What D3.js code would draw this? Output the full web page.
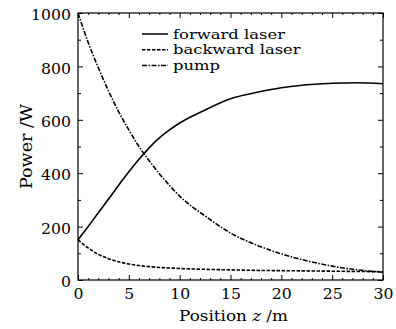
<!DOCTYPE html>
<html>
<head>
<meta charset="utf-8">
<script src="https://cdn.jsdelivr.net/npm/d3@7"></script>
<style>
  body { margin: 0; background: #fff; }
  svg { display: block; font-family: "DejaVu Serif", "Liberation Serif", serif; }
</style>
</head>
<body>
<div id="chart"></div>
<script>
// position along the fibre (m)
const positions = [0, 1, 2, 3, 4, 5, 6, 7, 8, 9, 10, 12.5, 15, 17.5, 20, 22.5, 25, 27.5, 30];
const forwardLaser = [150, 200, 252, 303, 355, 405, 452, 495, 532, 562, 588, 637, 679, 702, 720, 731, 737, 739, 735];
const backwardLaser = [150, 120, 96, 80, 68, 60, 54, 50, 47, 45, 43, 40, 38, 36, 35, 34, 33, 32, 31];
const pump = [1000, 890, 795, 708, 630, 562, 500, 447, 398, 354, 314, 240, 176, 132, 98, 72, 52, 38, 29];

const seriesNames = ['forward laser', 'backward laser', 'pump'];
const seriesDash = ['none', '3.5,1.5', '5,1.5,1.5,1.5'];
const xTicks = [0, 5, 10, 15, 20, 25, 30];
const xMinorTicks = d3.range(0, 31, 1).filter(v => v % 5 !== 0);
const yTicks = [0, 200, 400, 600, 800, 1000];
const yMinorTicks = [100, 300, 500, 700, 900];

const width = 396, height = 329;
const margin = { top: 13, right: 13, bottom: 49, left: 78 };

const svg = d3.select('#chart').append('svg')
  .attr('width', width)
  .attr('height', height);

const x = d3.scaleLinear().domain([0, 30]).range([margin.left, width - margin.right]);
const y = d3.scaleLinear().domain([0, 1000]).range([height - margin.bottom, margin.top]);

// stretch a text horizontally (the source font is wide)
function stretch(sel, k) {
  sel.each(function () {
    const len = this.getComputedTextLength();
    d3.select(this).attr('textLength', len * k).attr('lengthAdjust', 'spacingAndGlyphs');
  });
}

// frame
svg.append('rect')
  .attr('x', x(0)).attr('y', y(1000))
  .attr('width', x(30) - x(0)).attr('height', y(0) - y(1000))
  .attr('fill', 'none').attr('stroke', '#000').attr('stroke-width', 1.2);

// axes with inward ticks
svg.append('g')
  .attr('class', 'labelled')
  .attr('transform', `translate(0,${y(0)})`)
  .call(d3.axisBottom(x).tickValues(xTicks).tickSize(-5).tickPadding(9).tickFormat(d3.format('d')));
svg.append('g')
  .attr('transform', `translate(0,${y(1000)})`)
  .call(d3.axisTop(x).tickValues(xTicks).tickSize(-5).tickFormat(''));
svg.append('g')
  .attr('class', 'labelled')
  .attr('transform', `translate(${x(0)},0)`)
  .call(d3.axisLeft(y).tickValues(yTicks).tickSize(-5).tickPadding(7).tickFormat(d3.format('d')));
svg.append('g')
  .attr('transform', `translate(${x(30)},0)`)
  .call(d3.axisRight(y).tickValues(yTicks).tickSize(-5).tickFormat(''));

// minor ticks
svg.append('g')
  .attr('transform', `translate(${x(0)},0)`)
  .call(d3.axisLeft(y).tickValues(yMinorTicks).tickSize(-3).tickFormat(''));
svg.append('g')
  .attr('transform', `translate(${x(30)},0)`)
  .call(d3.axisRight(y).tickValues(yMinorTicks).tickSize(-3).tickFormat(''));
svg.append('g')
  .attr('transform', `translate(0,${y(0)})`)
  .call(d3.axisBottom(x).tickValues(xMinorTicks).tickSize(-2).tickFormat(''));
svg.append('g')
  .attr('transform', `translate(0,${y(1000)})`)
  .call(d3.axisTop(x).tickValues(xMinorTicks).tickSize(-2).tickFormat(''));

svg.selectAll('.domain').remove();
svg.selectAll('.tick line').attr('stroke', '#000').attr('stroke-width', 1);
svg.selectAll('.labelled .tick text')
  .attr('font-family', '"DejaVu Serif", "Liberation Serif", serif')
  .attr('font-size', 14)
  .attr('fill', '#000');
svg.selectAll('.labelled .tick text').attr('dy', null);
// y labels sit a little below their tick, like the source
svg.selectAll('.labelled .tick text')
  .filter(function () { return this.parentNode.parentNode.getAttribute('transform').startsWith('translate(' + x(0)); })
  .attr('dy', '0.48em');
svg.selectAll('.labelled .tick text')
  .filter(function () { return !this.getAttribute('dy'); })
  .attr('dy', '0.71em');
stretch(svg.selectAll('.labelled .tick text'), 1.12);

// lines
const line = d3.line()
  .x((d, i) => x(positions[i]))
  .y(d => y(d))
  .curve(d3.curveMonotoneX);

const series = [forwardLaser, backwardLaser, pump];
series.forEach((values, k) => {
  svg.append('path')
    .datum(values)
    .attr('d', line)
    .attr('fill', 'none')
    .attr('stroke', '#000')
    .attr('stroke-width', 1.6)
    .attr('stroke-dasharray', seriesDash[k]);
});

// legend
const legend = svg.append('g').attr('transform', 'translate(142,34)');
seriesNames.forEach((name, k) => {
  const row = legend.append('g').attr('transform', `translate(0,${k * 15.7})`);
  row.append('line')
    .attr('x1', 0).attr('x2', 26)
    .attr('stroke', '#000').attr('stroke-width', 1.5)
    .attr('stroke-dasharray', seriesDash[k]);
  row.append('text')
    .attr('class', 'legend-text')
    .attr('x', 31).attr('y', 4.5)
    .attr('font-size', 13)
    .text(name);
});
stretch(svg.selectAll('.legend-text'), 1.26);

// axis titles
const yl = svg.append('text')
  .attr('text-anchor', 'middle')
  .attr('transform', `translate(32,${(y(0) + y(1000)) / 2}) rotate(-90)`)
  .attr('font-size', 16)
  .text('Power /W');
stretch(yl, 1.1);

const xl = svg.append('text')
  .attr('x', (x(0) + x(30)) / 2 + 3)
  .attr('y', 321)
  .attr('text-anchor', 'middle')
  .attr('font-size', 15);
xl.append('tspan').text('Position ');
xl.append('tspan').attr('font-style', 'italic').text('z');
xl.append('tspan').text(' /m');
stretch(xl, 1.12);
</script>
</body>
</html>
